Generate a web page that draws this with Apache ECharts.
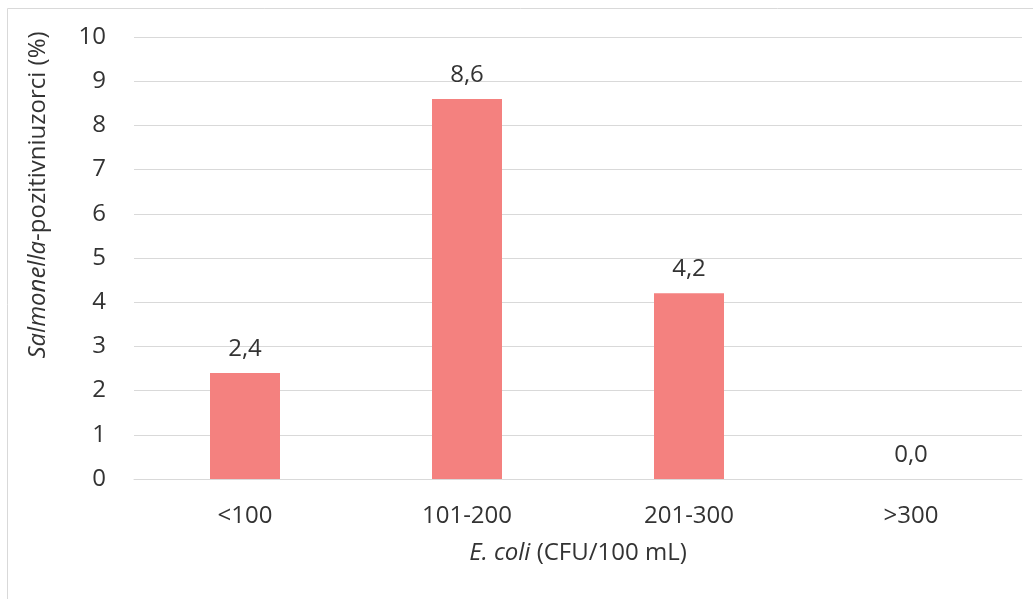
<!DOCTYPE html>
<html>
<head>
<meta charset="utf-8">
<script src="https://cdn.jsdelivr.net/npm/echarts@6/dist/echarts.min.js"></script>
<style>
  html, body { margin: 0; padding: 0; background: #fff; }
  #chart { width: 1033px; height: 599px; }
</style>
</head>
<body>
<div id="chart"></div>
<script>
    const categories = ['<100', '101-200', '201-300', '>300'];
    const positive = [2.4, 8.6, 4.2, 0.0]; // Salmonella-pozitivni uzorci (%)
    const yTicks = [0, 1, 2, 3, 4, 5, 6, 7, 8, 9, 10];

    let myChart = echarts.init(document.getElementById('chart'));
    let font = '"Open Sans", "Noto Sans", sans-serif';
    let fs = 24;
    let option = {
        textStyle: { fontFamily: font },
        graphic: [{
            type: 'rect',
            shape: { x: 7.5, y: 8.5, width: 1200, height: 800 },
            style: { fill: 'none', stroke: '#d9d9d9', lineWidth: 1 },
            silent: true
        }],
        grid: {
            left: 134,
            right: 11,
            top: 37,
            bottom: 120
        },
        xAxis: {
            type: 'category',
            data: categories,
            axisTick: { show: false },
            axisLine: { lineStyle: { color: '#d9d9d9' } },
            axisLabel: { color: '#333', fontSize: fs, margin: 25, fontFamily: font },
            name: '{i|E. coli} (CFU/100 mL)',
            nameLocation: 'middle',
            nameGap: 62,
            nameTextStyle: {
                color: '#333', fontSize: fs, fontFamily: font,
                rich: { i: { fontStyle: 'italic', fontSize: fs, color: '#333', fontFamily: font } }
            }
        },
        yAxis: {
            type: 'value',
            min: yTicks[0],
            max: yTicks[yTicks.length - 1],
            interval: 1,
            axisLine: { show: false },
            axisTick: { show: false },
            axisLabel: { color: '#333', fontSize: fs, margin: 28, fontFamily: font },
            splitLine: { lineStyle: { color: '#d9d9d9' } },
            name: '{i|Salmonella}-pozitivniuzorci (%)',
            nameLocation: 'middle',
            nameRotate: 90,
            nameGap: 84,
            nameTextStyle: {
                color: '#333', fontSize: fs, fontFamily: font,
                padding: [0, 0, 0, 126],
                rich: { i: { fontStyle: 'italic', fontSize: fs, color: '#333', fontFamily: font } }
            }
        },
        series: [{
            type: 'bar',
            data: positive,
            barWidth: 70,
            itemStyle: { color: '#f4817f' },
            label: {
                show: true,
                position: 'top',
                distance: 12,
                color: '#333',
                fontSize: fs,
                fontFamily: font,
                formatter: p => p.value.toFixed(1).replace('.', ',')
            }
        }]
    };
    myChart.setOption(option);
</script>
</body>
</html>
